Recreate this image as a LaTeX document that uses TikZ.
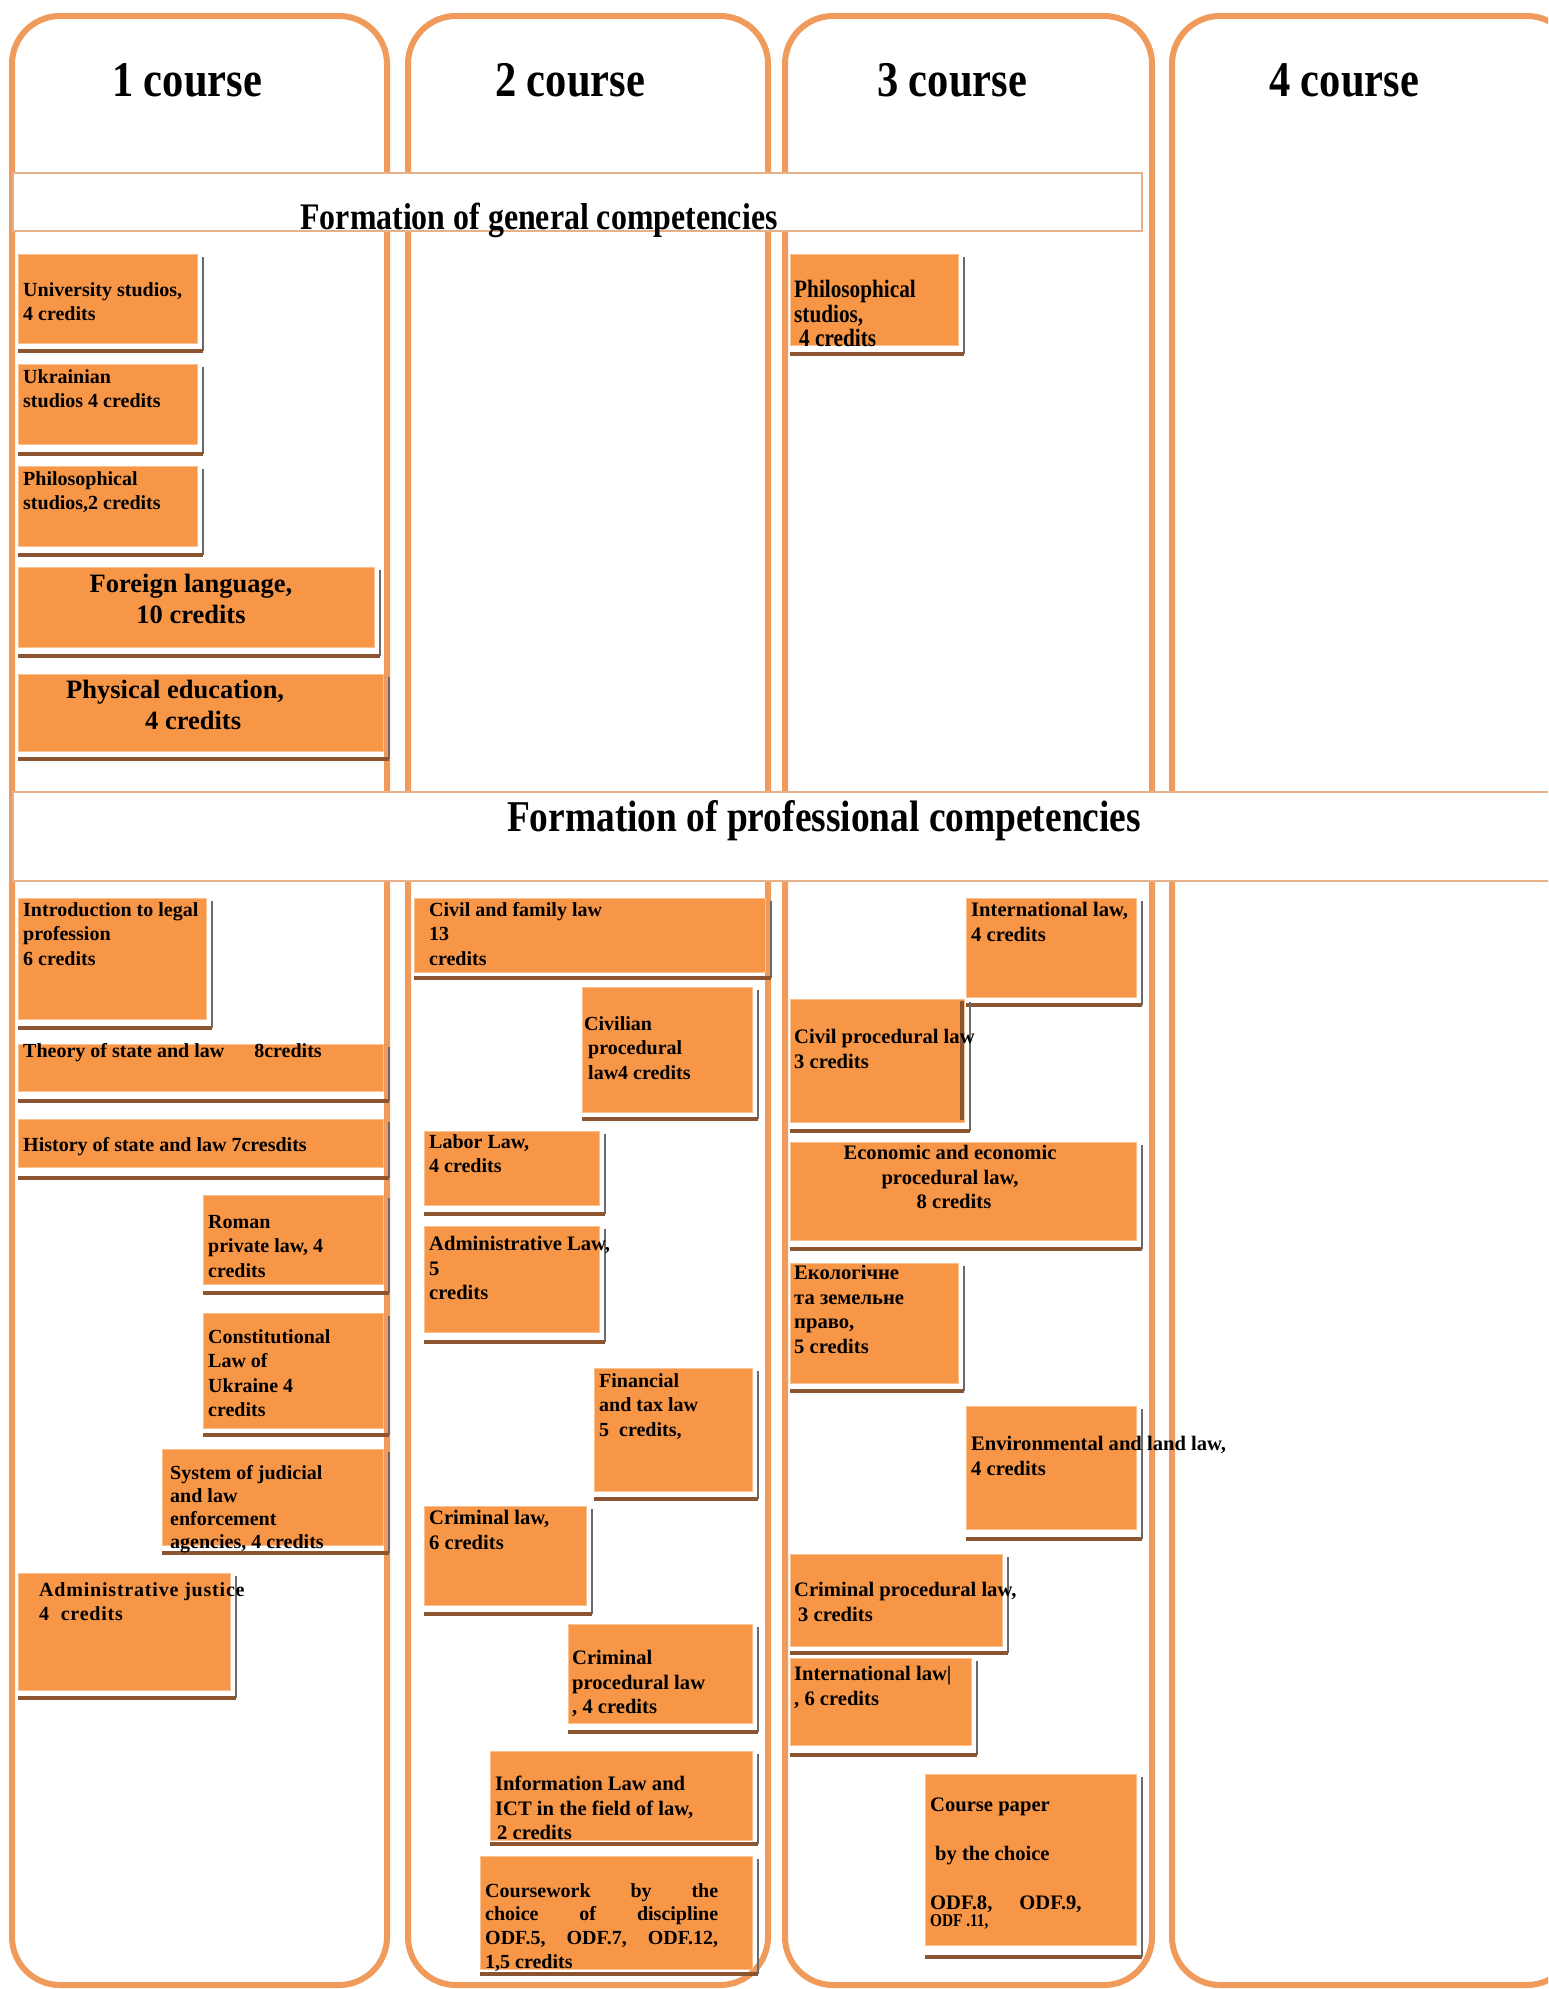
\documentclass[tikz,border=0pt]{standalone}
\usepackage{fontspec}
\setmainfont{Liberation Serif}
\newfontfamily\condfont[FakeStretch=0.85]{Liberation Serif}
\definecolor{boxorange}{HTML}{F79646}
\definecolor{frameorange}{HTML}{F09B5B}
\definecolor{bandline}{HTML}{E8B088}
\definecolor{barbrown}{HTML}{8A5530}
\definecolor{shgrey}{HTML}{6A6A6A}
\newcommand\crsbox[6]{%
  \draw[shline] ({#4+6},{#3+3}) -- ({#4+6},{#6});
  \draw[shbar] (#2,#6) -- ({#4+6},#6);
  \node[obox, anchor=north west, minimum width={#4-#2}, minimum height={#5-#3}] (#1) at (#2,#3) {};
}
\begin{document}
\begin{tikzpicture}[x=1pt,y=-1pt,
  colframe/.style={draw=frameorange, line width=6pt, rounded corners=48pt},
  band/.style={draw=bandline, fill=white, line width=2.5pt},
  obox/.style={rectangle, fill=boxorange, draw=boxorange!60!white, line width=0.8pt, inner sep=0pt},
  shbar/.style={draw=barbrown, line width=4.5pt},
  shline/.style={draw=shgrey, line width=1.5pt},
  bxt/.style={anchor=north west, align=left, inner sep=0pt, text=black,
    font=\fontsize{20}{24.5}\selectfont\bfseries},
  wxt/.style={bxt, font=\fontsize{20.6}{24.5}\selectfont\bfseries},
  bigt/.style={anchor=north west, align=left, inner sep=0pt, text=black,
    font=\fontsize{26.5}{30.5}\selectfont\bfseries},
  hd/.style={anchor=base, inner sep=0pt, text=black,
    font=\condfont\bfseries\fontsize{50}{55}\selectfont},
  bandt/.style={anchor=base, inner sep=0pt, text=black}
]
\useasboundingbox (0,0) rectangle (1548,1989);
\clip (0,0) rectangle (1548,1989);
\fill[white] (0,0) rectangle (1548,1989);

% course columns
\draw[colframe] (12,16) rectangle (387,1985);
\draw[colframe] (408,16) rectangle (768,1985);
\draw[colframe] (785,16) rectangle (1152,1985);
\draw[colframe] (1172,16) rectangle (1575,1985);

\node[hd] (c1) at (187,96) {1 course};
\node[hd] (c2) at (570,96) {2 course};
\node[hd] (c3) at (952,96) {3 course};
\node[hd] (c4) at (1344,96) {4 course};

% bands
\draw[band] (13,173) rectangle (1142,231);
\node[bandt, font=\condfont\bfseries\fontsize{37.5}{40}\selectfont] (gen) at (539,229) {Formation of general competencies};
\draw[band] (13,792) rectangle (1575,881);
\node[bandt, font=\condfont\bfseries\fontsize{44}{48}\selectfont] (prof) at (824,831) {Formation of professional competencies};

% ---------- general competencies ----------
\crsbox{uni}{18}{254}{197}{343}{351}
\node[bxt] (uni-t) at (23,282) {University studios,\\4 credits};
\crsbox{ukr}{18}{364}{197}{444}{454}
\node[bxt] (ukr-t) at (23,369) {Ukrainian\\studios 4 credits};
\crsbox{phA}{18}{466}{197}{546}{555}
\node[bxt] (phA-t) at (23,471) {Philosophical\\studios,2 credits};
\crsbox{forl}{18}{567}{374}{647}{656}
\node[bigt, anchor=north, align=center] (forl-t) at (191,574) {Foreign language,\\10 credits};
\crsbox{phys}{18}{674}{383}{751}{759}
\node[bigt] (phys-t) at (66,680) {Physical education,\\\hspace*{79pt}4 credits};
\crsbox{phB}{790}{254}{958}{345}{354}
\node[bxt, font=\condfont\bfseries\fontsize{25}{24.5}\selectfont] (phB-t) at (794,280) {Philosophical\\studios,\\\hspace*{5pt}4 credits};

% ---------- professional: 1 course ----------
\crsbox{intro}{18}{898}{206}{1019}{1028}
\node[bxt] (intro-t) at (23,902) {Introduction to legal\\profession\\6 credits};
\crsbox{theory}{18}{1044}{383}{1091}{1101}
\node[bxt] (theory-t) at (23,1043) {Theory of state and law\hspace{30pt}8credits};
\crsbox{hist}{18}{1119}{383}{1167}{1178}
\node[bxt] (hist-t) at (23,1137) {History of state and law 7cresdits};
\crsbox{roman}{203}{1195}{383}{1284}{1293}
\node[bxt] (roman-t) at (208,1215) {Roman\\private law, 4\\credits};
\crsbox{const}{203}{1313}{383}{1428}{1435}
\node[bxt] (const-t) at (208,1329) {Constitutional\\Law of\\Ukraine 4\\credits};
\crsbox{sys}{162}{1449}{383}{1545}{1553}
\node[bxt, font=\fontsize{20}{23}\selectfont\bfseries] (sys-t) at (170,1465) {System of judicial\\and law\\enforcement\\agencies, 4 credits};
\crsbox{adj}{18}{1573}{230}{1690}{1698}
\node[bxt, font=\fontsize{20}{24.5}\selectfont\bfseries\addfontfeature{LetterSpace=4}] (adj-t) at (39,1582) {Administrative justice\\4\ \ credits};

% ---------- professional: 2 course ----------
\crsbox{civfam}{414}{898}{765}{972}{978}
\node[bxt] (civfam-t) at (429,902) {Civil and family law\\13\\credits};
\crsbox{civproc}{582}{987}{752}{1112}{1119}
\node[bxt] (civproc-t) at (584,1016) {Civilian\\\hspace*{4pt}procedural\\\hspace*{4pt}law4 credits};
\crsbox{labor}{424}{1131}{599}{1205}{1214}
\node[bxt] (labor-t) at (429,1134) {Labor Law,\\4 credits};
\crsbox{admlaw}{424}{1226}{599}{1332}{1342}
\node[wxt] (admlaw-t) at (429,1236) {Administrative Law,\\5\\credits};
\crsbox{fin}{594}{1368}{752}{1491}{1499}
\node[bxt] (fin-t) at (599,1373) {Financial\\and tax law\\5\ \ credits,};
\crsbox{crim}{424}{1506}{586}{1605}{1614}
\node[wxt] (crim-t) at (429,1510) {Criminal law,\\6 credits};
\crsbox{crimpr}{568}{1624}{752}{1723}{1732}
\node[wxt] (crimpr-t) at (572,1650) {Criminal\\procedural law\\, 4 credits};
\crsbox{info}{490}{1751}{752}{1840}{1844}
\node[wxt] (info-t) at (495,1776) {Information Law and\\ICT in the field of law,\\\hspace*{2pt}2 credits};
\crsbox{cwork}{480}{1856}{752}{1969}{1974}
\node[bxt, font=\fontsize{20}{23.7}\selectfont\bfseries] (cwork-t) at (485,1883) {\hbox to 233pt{Coursework\hfill by\hfill the}\\\hbox to 233pt{choice\hfill of\hfill discipline}\\\hbox to 233pt{ODF.5,\hfill ODF.7,\hfill ODF.12,}\\1,5 credits};

% ---------- professional: 3 course ----------
\crsbox{intlA}{966}{898}{1136}{997}{1005}
\node[wxt] (intlA-t) at (971,902) {International law,\\4 credits};
\crsbox{cpr}{790}{999}{964}{1122}{1131}
\draw[barbrown, line width=4pt] (962,1001) -- (962,1120);
\node[wxt] (cpr-t) at (794,1029) {Civil procedural law\\3 credits};
\crsbox{econ}{790}{1142}{1136}{1240}{1249}
\node[wxt, anchor=north, align=center] (econ-t) at (950,1145) {Economic and economic\\procedural law,\\\hspace*{8pt}8 credits};
\crsbox{ecoua}{790}{1263}{958}{1383}{1391}
\node[wxt] (ecoua-t) at (794,1265) {Екологічне\\та земельне\\право,\\5 credits};
\crsbox{env}{966}{1406}{1136}{1529}{1539}
\node[wxt] (env-t) at (971,1436) {Environmental and land law,\\4 credits};
\crsbox{cprB}{790}{1554}{1002}{1646}{1653}
\node[wxt] (cprB-t) at (794,1582) {Criminal procedural law,\\\hspace*{4pt}3 credits};
\crsbox{intlB}{790}{1658}{971}{1745}{1755}
\node[wxt] (intlB-t) at (794,1666) {International law|\\, 6 credits};
\crsbox{cpaper}{925}{1774}{1136}{1945}{1957}
\node[wxt] (cpaper-t) at (930,1798) {Course paper\\[24pt]\hspace*{5pt}by the choice\\[24.5pt]ODF.8,\hspace{27pt}ODF.9,\\[-7pt]{\condfont\bfseries\fontsize{18}{18}\selectfont ODF .11,}};

\end{tikzpicture}
\end{document}
